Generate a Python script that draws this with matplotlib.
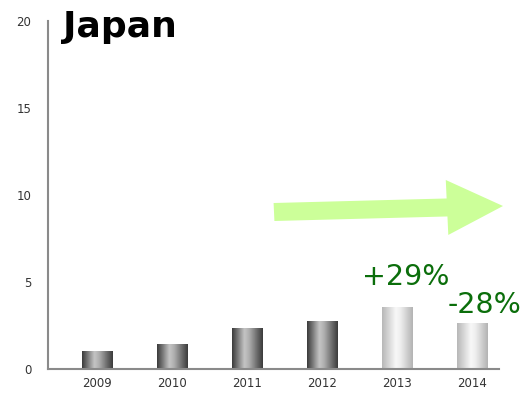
import numpy as np
import matplotlib.pyplot as plt
from matplotlib.colors import LinearSegmentedColormap
from matplotlib.patches import FancyArrow

years = ['2009', '2010', '2011', '2012', '2013', '2014']
values = [1.0, 1.4, 2.3, 2.75, 3.55, 2.6]
shade = ['dark', 'dark', 'dark', 'dark', 'light', 'light']
changes = {4: '+29%', 5: '-28%'}

dark_cmap = LinearSegmentedColormap.from_list(
    'dark', [(0, '#3c3c3c'), (0.4, '#c4c4c4'), (0.55, '#b0b0b0'), (1, '#3c3c3c')])
light_cmap = LinearSegmentedColormap.from_list(
    'light', [(0, '#b8b8b8'), (0.45, '#f8f8f8'), (0.6, '#eeeeee'), (1, '#b4b4b4')])

fig = plt.figure(figsize=(5.21, 3.94), dpi=100)
ax = fig.add_axes([48/521, 25/394, (499-48)/521, (369-21)/394])

x = np.arange(len(years))
w = 0.4
grad = np.linspace(0, 1, 64).reshape(1, -1)
for i, v in enumerate(values):
    cmap = dark_cmap if shade[i] == 'dark' else light_cmap
    ax.imshow(grad, cmap=cmap, aspect='auto', extent=(i - w/2, i + w/2, 0, v),
              interpolation='bilinear', zorder=2)

ax.set_xlim(-0.65, 5.36)
ax.set_ylim(0, 20)
ax.set_xticks(x)
ax.set_xticklabels(years)
ax.set_yticks([0, 5, 10, 15, 20])
ax.tick_params(length=0, labelsize=8.5, colors='#333333', pad=6)
ax.tick_params(axis='y', pad=12)
for s in ['top', 'right']:
    ax.spines[s].set_visible(False)
for s in ['left', 'bottom']:
    ax.spines[s].set_color('#8a8a8a')
    ax.spines[s].set_linewidth(1.5)

# change labels: (x shift, y gap above bar, alignment)
label_pos = {4: (0.12, 1.28, 'center'), 5: (-0.33, 0.6, 'left')}
for i, txt in changes.items():
    dx, dy, ha = label_pos[i]
    ax.text(i + dx, values[i] + dy, txt, color='#0b6e0b', fontsize=20.5,
            ha=ha, va='baseline', family='DejaVu Sans', clip_on=False)

# trend arrow
arrow = FancyArrow(274/521, 1 - 212/394, (503-274)/521, 6/394, width=18/394,
                   head_width=55/394, head_length=56/521, length_includes_head=True,
                   transform=fig.transFigure, color='#ccff99', lw=0, zorder=5)
fig.patches.append(arrow)

fig.text(63/521, 1 - 37/394, 'Japan', fontsize=26, fontweight='bold',
         color='black', va='baseline')

fig.savefig('out.png', dpi=100)
